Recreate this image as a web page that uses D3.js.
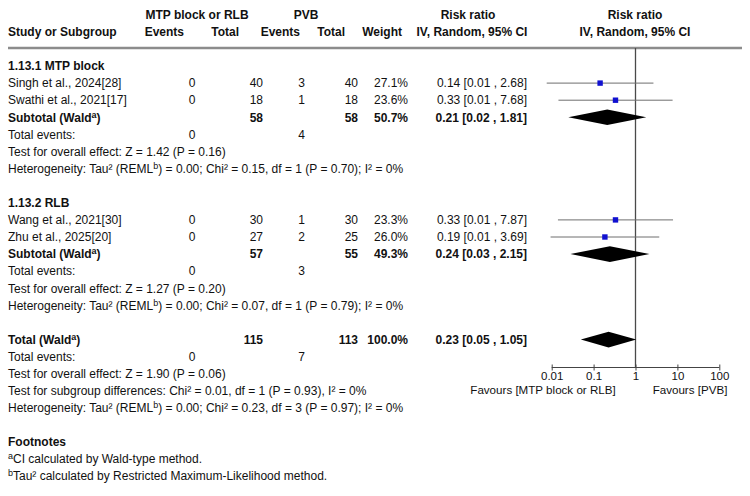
<!DOCTYPE html>
<html><head><meta charset="utf-8">
<script src="https://cdn.jsdelivr.net/npm/d3@7"></script>
<style>body{margin:0;background:#fff}svg{display:block}text{font-family:"Liberation Sans",Arial,sans-serif;fill:#111}</style>
</head><body>
<script>
// ---- data ----
const studies = ["Singh et al., 2024[28]", "Swathi et al., 2021[17]", "Wang et al., 2021[30]", "Zhu et al., 2025[20]"];
const studyRow = [1, 2, 9, 10];
const expEvents = [0, 0, 0, 0];
const expTotal = [40, 18, 30, 27];
const ctlEvents = [3, 1, 1, 2];
const ctlTotal = [40, 18, 30, 25];
const weights = [27.1, 23.6, 23.3, 26.0];
const rr = [0.143, 0.333, 0.333, 0.186];
const ciLow = [0.0076, 0.0145, 0.0141, 0.0094];
const ciHigh = [2.68, 7.68, 7.87, 3.69];

const poolNames = ["Subtotal (Wald", "Subtotal (Wald", "Total (Wald"];
const poolRow = [3, 11, 16];
const poolExpTotal = [58, 57, 115];
const poolCtlTotal = [58, 55, 113];
const poolWeight = [50.7, 49.3, 100.0];
const poolRR = [0.212, 0.2447, 0.2276];
const poolLow = [0.0249, 0.028, 0.0495];
const poolHigh = [1.81, 2.15, 1.046];

const groupTitles = ["1.13.1 MTP block", "1.13.2 RLB"];
const groupRow = [0, 8];
const evRow = [4, 12, 17];
const evExp = [0, 0, 0];
const evCtl = [4, 3, 7];
const infoRows = [5, 6, 13, 14, 18, 19, 20];
const infoText = [
  ["Test for overall effect: Z = 1.42 (P = 0.16)"],
  ["Heterogeneity: Tau² (REML", "b", ") = 0.00; Chi² = 0.15, df = 1 (P = 0.70); I² = 0%"],
  ["Test for overall effect: Z = 1.27 (P = 0.20)"],
  ["Heterogeneity: Tau² (REML", "b", ") = 0.00; Chi² = 0.07, df = 1 (P = 0.79); I² = 0%"],
  ["Test for overall effect: Z = 1.90 (P = 0.06)"],
  ["Test for subgroup differences: Chi² = 0.01, df = 1 (P = 0.93), I² = 0%"],
  ["Heterogeneity: Tau² (REML", "b", ") = 0.00; Chi² = 0.23, df = 3 (P = 0.97); I² = 0%"]
];
const axisTicks = [0.01, 0.1, 1, 10, 100];
const footnotes = [["a", "CI calculated by Wald-type method."], ["b", "Tau² calculated by Restricted Maximum-Likelihood method."]];

// ---- layout ----
const W = 750, H = 496;
const svg = d3.select("body").append("svg").attr("width", W).attr("height", H);
const y = d3.scaleLinear().domain([0, 1]).range([66, 83.1]);
const x = d3.scaleLog().domain([0.01, 100]).range([551.7, 719.3]);
const FS = 12, off = 4.2;
const col = {study: 8, ev1: 195.5, tot1: 263, ev2: 305, tot2: 358, w: 408, ci: 527};
const fmt2 = d3.format(".2f"), fmt1 = d3.format(".1f");
const ciStr = (r, l, h) => `${fmt2(r)} [${fmt2(l)} , ${fmt2(h)}]`;

function txt(xx, yy, s, opts = {}) {
  return svg.append("text").attr("x", xx).attr("y", yy + off)
    .attr("font-size", opts.size || FS)
    .attr("font-weight", opts.bold ? "bold" : null)
    .attr("text-anchor", opts.anchor || "start").text(s);
}
function supText(xx, yy, parts, opts = {}) {
  const t = svg.append("text").attr("x", xx).attr("y", yy + off).attr("font-size", FS)
    .attr("font-weight", opts.bold ? "bold" : null);
  parts.forEach((p, i) => {
    if (i % 2 === 1) t.append("tspan").attr("font-size", 9).attr("dy", -4).text(p);
    else t.append("tspan").attr("dy", i > 0 ? 4 : 0).text(p);
  });
  return t;
}

// headers
txt(197, 15, "MTP block or RLB", {bold: true, anchor: "middle"});
txt(306, 15, "PVB", {bold: true, anchor: "middle"});
txt(468, 15, "Risk ratio", {bold: true, anchor: "middle"});
txt(635, 15, "Risk ratio", {bold: true, anchor: "middle"});
txt(col.study, 32, "Study or Subgroup", {bold: true});
txt(184, 32, "Events", {bold: true, anchor: "end"});
txt(239, 32, "Total", {bold: true, anchor: "end"});
txt(300, 32, "Events", {bold: true, anchor: "end"});
txt(345, 32, "Total", {bold: true, anchor: "end"});
txt(402, 32, "Weight", {bold: true, anchor: "end"});
txt(472, 32, "IV, Random, 95% CI", {bold: true, anchor: "middle"});
txt(635, 32, "IV, Random, 95% CI", {bold: true, anchor: "middle"});
svg.append("line").attr("x1", 8).attr("x2", 742).attr("y1", 48).attr("y2", 48)
  .attr("stroke", "#8c8c8c").attr("stroke-width", 2.5);

// null line
svg.append("line").attr("x1", x(1)).attr("x2", x(1)).attr("y1", 48).attr("y2", 367.5)
  .attr("stroke", "#4a4a4a").attr("stroke-width", 1.3);

// group titles
groupTitles.forEach((g, i) => txt(col.study, y(groupRow[i]), g, {bold: true}));

// studies
studies.forEach((s, i) => {
  const yy = y(studyRow[i]);
  txt(col.study, yy, s);
  txt(col.ev1, yy, expEvents[i], {anchor: "end"});
  txt(col.tot1, yy, expTotal[i], {anchor: "end"});
  txt(col.ev2, yy, ctlEvents[i], {anchor: "end"});
  txt(col.tot2, yy, ctlTotal[i], {anchor: "end"});
  txt(col.w, yy, fmt1(weights[i]) + "%", {anchor: "end"});
  txt(col.ci, yy, ciStr(rr[i], ciLow[i], ciHigh[i]), {anchor: "end"});
  svg.append("line").attr("x1", x(ciLow[i])).attr("x2", x(ciHigh[i])).attr("y1", yy).attr("y2", yy)
    .attr("stroke", "#6e6e6e").attr("stroke-width", 1);
  svg.append("rect").attr("x", x(rr[i]) - 2.7).attr("y", yy - 2.7).attr("width", 5.4).attr("height", 5.4)
    .attr("fill", "#1010d0");
});

// pooled
poolNames.forEach((n, i) => {
  const yy = y(poolRow[i]);
  supText(col.study, yy, [n, "a", ")"], {bold: true});
  txt(col.tot1, yy, poolExpTotal[i], {anchor: "end", bold: true});
  txt(col.tot2, yy, poolCtlTotal[i], {anchor: "end", bold: true});
  txt(col.w, yy, fmt1(poolWeight[i]) + "%", {anchor: "end", bold: true});
  txt(col.ci, yy, ciStr(poolRR[i], poolLow[i], poolHigh[i]), {anchor: "end", bold: true});
  const pts = [[x(poolLow[i]), yy], [x(poolRR[i]), yy - 7.8], [x(poolHigh[i]), yy], [x(poolRR[i]), yy + 7.8]];
  svg.append("path").attr("d", d3.line()(pts) + "Z").attr("fill", "#000");
});

// total events
evRow.forEach((r, i) => {
  const yy = y(r);
  txt(col.study, yy, "Total events:");
  txt(col.ev1, yy, evExp[i], {anchor: "end"});
  txt(col.ev2, yy, evCtl[i], {anchor: "end"});
});

// info lines
infoRows.forEach((r, i) => supText(col.study, y(r), infoText[i]));

// axis
const ax = svg.append("g").attr("transform", "translate(0,367.5)")
  .call(d3.axisBottom(x).tickValues(axisTicks).tickFormat(d => String(d)).tickSize(3));
ax.attr("font-size", 11).attr("font-family", '"Liberation Sans",Arial,sans-serif');
ax.select(".domain").attr("stroke", "#444").attr("d", `M${x(0.01)},0H${x(100)}`);
ax.selectAll(".tick line").attr("y1", -3).attr("y2", 3).attr("stroke", "#444");
ax.selectAll(".tick text").attr("font-size", 11.5).attr("fill", "#111").attr("y", 12.5).attr("dy", null);
txt(543, 390, "Favours [MTP block or RLB]", {anchor: "middle", size: 11.6});
txt(690, 390, "Favours [PVB]", {anchor: "middle", size: 11.6});

// footnotes
txt(col.study, 442, "Footnotes", {bold: true});
footnotes.forEach((f, i) => supText(col.study, 459 + 17 * i, ["", f[0], f[1]]));
</script>
</body></html>
